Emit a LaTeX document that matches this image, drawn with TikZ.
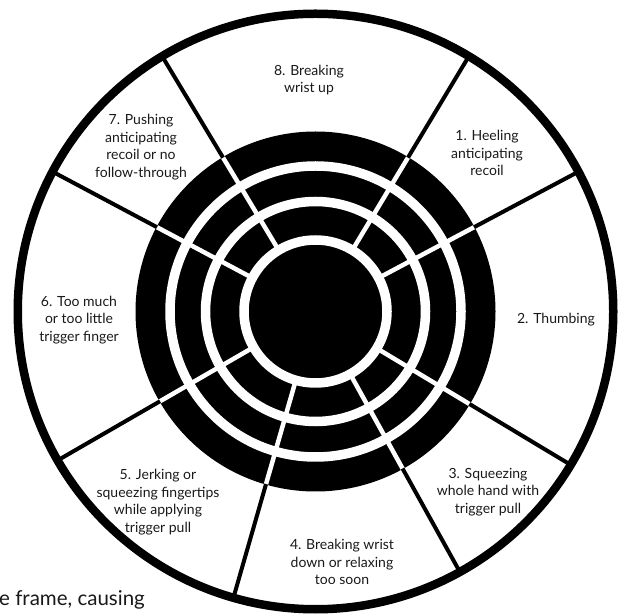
\documentclass[tikz,border=0pt]{standalone}
\usepackage{fontspec}
\setmainfont{Lato}
\begin{document}
\begin{tikzpicture}[x=1pt,y=1pt]
\tikzset{
  outerring/.style={black, line width=8.5pt},
  whitering/.style={white, line width=9.5pt},
  whitespoke/.style={white, line width=4.5pt},
  blackspoke/.style={black, line width=4pt},
  lbl/.style={align=center, font=\fontsize{14}{17.5}\selectfont, text=black!90, inner sep=0pt},
  cut/.style={font=\fontsize{20.5}{24}\selectfont, text=black!90, inner sep=0pt, anchor=base west},
}
\useasboundingbox (0,0) rectangle (626,613);
\coordinate (c) at (315.5,301.5);
\begin{scope}[shift={(c)}]
  \fill[black] (0,0) circle (180);
  \foreach \r in {145.5,110,71.5} \draw[whitering] (0,0) circle (\r);
  \foreach \a in {121,59,28,-31,-61,-106,-150,152} {
    \draw[whitespoke] (\a:71.5) -- (\a:181);
    \draw[blackspoke] (\a:179.5) -- (\a:298);
  }
  \draw[outerring] (0,0) circle (297.75);
\end{scope}
\node[lbl] (l8) at (309,533) {8. Breaking\\wrist up};
\node[lbl] (l1) at (487,460) {1. Heeling\\anticipating\\recoil};
\node[lbl] (l2) at (556,293) {2. Thumbing};
\node[lbl] (l3) at (488,121) {3. Squeezing\\whole hand with\\trigger pull};
\node[lbl] (l4) at (342,51) {4. Breaking wrist\\down or relaxing\\too soon};
\node[lbl] (l5) at (158,111) {5. Jerking or\\squeezing fingertips\\while applying\\trigger pull};
\node[lbl] (l6) at (79,293) {6. Too much\\or too little\\trigger finger};
\node[lbl] (l7) at (141,466) {7. Pushing\\anticipating\\recoil or no\\follow-through};
\node[cut] (tail) at (-1,8) {e frame, causing};
\end{tikzpicture}
\end{document}
